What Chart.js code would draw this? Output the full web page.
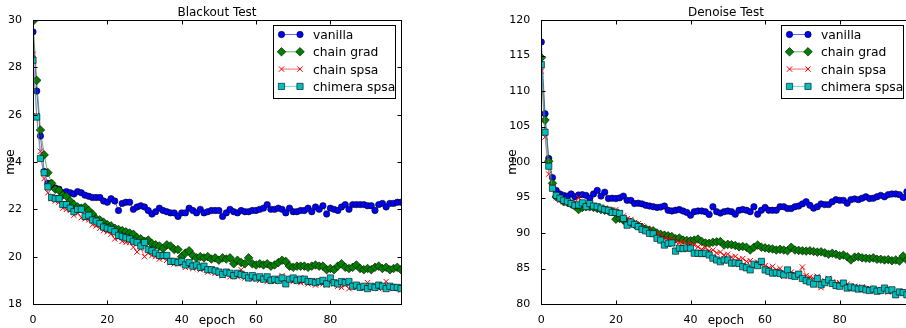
<!DOCTYPE html>
<html>
<head>
<meta charset="utf-8">
<script src="https://cdn.jsdelivr.net/npm/chart.js"></script>
<style>
  html, body { margin: 0; padding: 0; background: #fff; overflow: hidden; }
  body { width: 906px; height: 328px; position: relative; }
  canvas { position: absolute; top: 0; }
</style>
</head>
<body>
<canvas id="blackoutChart" width="453" height="328" style="left:0px"></canvas>
<canvas id="denoiseChart" width="470" height="328" style="left:453px"></canvas>
<script>
const epochs = Array.from({ length: 100 }, (_, i) => i);
const seriesNames = ['vanilla', 'chain grad', 'chain spsa', 'chimera spsa'];

// Blackout Test
const blackoutVanilla = [
  29.5, 27.0, 25.1, 23.6, 23.1, 23.0, 22.9, 22.85, 22.7, 22.75,
  22.7, 22.65, 22.75, 22.7, 22.6, 22.55, 22.5, 22.5, 22.5, 22.35,
  22.3, 22.45, 22.35, 21.95, 22.25, 22.3, 22.3, 22.0, 22.1, 22.15,
  22.1, 21.95, 21.8, 21.9, 22.05, 21.95, 21.9, 21.85, 21.85, 21.7,
  21.85, 21.85, 22.05, 21.95, 21.85, 22.0, 21.85, 21.9, 21.95, 21.95,
  21.95, 21.7, 21.85, 22.0, 21.9, 21.85, 21.95, 21.9, 21.9, 21.95,
  21.95, 22.0, 22.05, 22.2, 22.0, 22.0, 22.05, 22.0, 21.85, 22.05,
  21.9, 21.9, 21.95, 21.95, 22.05, 21.9, 22.1, 22.0, 22.15, 21.8,
  22.05, 22.0, 21.95, 22.1, 22.2, 22.0, 22.2, 22.2, 22.2, 22.2,
  22.15, 22.15, 21.95, 22.2, 22.25, 22.1, 22.25, 22.25, 22.3, 22.3
];
const blackoutChainGrad = [
  29.95, 27.45, 25.35, 24.3, 23.55, 23.1, 22.85, 22.8, 22.6, 22.55,
  22.35, 22.2, 22.1, 22.05, 22.1, 21.95, 21.8, 21.6, 21.55, 21.45,
  21.35, 21.3, 21.2, 21.15, 21.1, 21.05, 21.0, 20.95, 20.8, 20.75,
  20.65, 20.7, 20.55, 20.5, 20.45, 20.35, 20.5, 20.45, 20.3, 20.3,
  20.0, 20.15, 20.25, 20.05, 19.95, 20.0, 19.95, 20.0, 19.9, 19.95,
  19.85, 19.95, 19.9, 19.95, 19.7, 19.85, 19.75, 19.7, 19.95, 19.7,
  19.65, 19.7, 19.65, 19.7, 19.6, 19.65, 19.75, 19.85, 19.8, 19.6,
  19.55, 19.6, 19.6, 19.6, 19.55, 19.6, 19.65, 19.6, 19.6, 19.45,
  19.5, 19.45, 19.6, 19.7, 19.55, 19.5, 19.55, 19.65, 19.5, 19.45,
  19.5, 19.45, 19.55, 19.6, 19.5, 19.55, 19.45, 19.5, 19.55, 19.45
];
const blackoutChainSpsa = [
  28.55, 25.95, 24.45, 23.3, 22.7, 22.45, 22.35, 22.3, 22.05, 22.0,
  21.95, 21.75, 21.85, 21.65, 21.6, 21.55, 21.35, 21.3, 21.2, 21.1,
  21.05, 20.95, 20.75, 20.8, 20.65, 20.6, 20.6, 20.4, 20.2, 20.35,
  20.0, 20.15, 20.05, 20.0, 19.9, 19.95, 19.85, 19.75, 19.7, 19.7,
  19.75, 19.55, 19.6, 19.5, 19.55, 19.45, 19.5, 19.35, 19.45, 19.3,
  19.3, 19.2, 19.35, 19.15, 19.25, 19.15, 19.45, 19.1, 19.2, 19.05,
  19.15, 19.0, 19.1, 18.95, 19.05, 18.95, 19.05, 19.2, 18.9, 19.0,
  18.95, 18.95, 18.9, 18.95, 18.85, 18.95, 18.8, 18.9, 18.85, 18.8,
  18.9, 18.85, 18.75, 18.7, 18.8, 18.65, 18.75, 18.7, 18.75, 18.7,
  18.9, 18.7, 18.75, 18.65, 18.75, 18.95, 18.7, 18.65, 18.7, 18.6
];
const blackoutChimeraSpsa = [
  28.3, 25.9, 24.15, 23.55, 22.95, 22.5, 22.45, 22.45, 22.2, 22.2,
  22.05, 21.9, 22.0, 22.0, 21.7, 21.75, 21.55, 21.5, 21.4, 21.25,
  21.2, 21.15, 21.05, 20.9, 20.85, 20.8, 20.75, 20.65, 20.6, 20.45,
  20.6, 20.3, 20.25, 20.15, 20.05, 20.05, 20.05, 19.8, 19.8, 19.75,
  19.8, 19.65, 19.75, 19.6, 19.65, 19.55, 19.6, 19.45, 19.45, 19.4,
  19.35, 19.25, 19.35, 19.3, 19.2, 19.3, 19.25, 19.2, 19.1, 19.2,
  19.1, 19.15, 19.05, 19.15, 19.0, 19.05, 19.0, 19.1, 18.85, 19.05,
  19.1, 19.0, 19.05, 19.05, 18.95, 18.95, 18.9, 18.95, 19.0, 18.85,
  19.1, 18.9, 18.85, 18.95, 18.9, 18.95, 18.75, 18.8, 18.7, 18.75,
  18.65, 18.75, 18.7, 18.8, 18.75, 18.65, 18.75, 18.7, 18.7, 18.65
];

// Denoise Test
const denoiseVanilla = [
  116.9, 106.8, 100.5, 97.8, 96.0, 95.5, 95.3, 95.2, 95.5, 95.1,
  95.35, 95.4, 95.3, 94.9, 95.5, 96.0, 95.2, 95.75, 94.85, 94.9,
  94.85, 94.95, 95.2, 94.6, 94.6, 94.15, 94.2, 94.1, 93.9, 93.8,
  93.7, 93.6, 93.65, 93.8, 93.2, 93.1, 93.2, 93.3, 93.1, 92.9,
  92.5, 93.0, 93.1, 93.1, 93.0, 92.6, 93.7, 93.0, 92.8, 93.0,
  93.1, 93.0, 92.65, 93.2, 93.3, 93.2, 93.0, 93.7, 92.65, 93.2,
  93.6, 93.2, 93.2, 93.2, 93.7, 93.7, 93.45, 93.45, 93.7, 93.8,
  94.1, 94.4, 93.9, 93.5, 93.7, 94.1, 94.0, 94.0, 94.4, 94.7,
  94.6, 94.6, 94.2, 94.7, 94.8, 94.7, 94.9, 95.1, 94.85, 94.9,
  95.1, 95.3, 95.1, 95.4, 95.5, 95.5, 95.4, 95.0, 95.8, 95.7
];
const denoiseChainGrad = [
  114.7, 105.9, 100.1, 97.0, 95.1, 94.9, 94.4, 94.3, 94.1, 93.8,
  93.3, 93.6, 93.7, 93.7, 93.6, 93.45, 93.3, 93.2, 93.1, 93.0,
  91.95, 92.05, 91.8, 91.6, 91.5, 91.2, 91.0, 90.8, 90.6, 90.4,
  90.3, 90.0, 89.8, 89.7, 89.6, 89.5, 89.2, 89.3, 89.0, 88.95,
  88.9, 89.0, 89.15, 88.8, 88.6, 88.55, 88.7, 88.75, 88.8, 88.3,
  88.4, 88.35, 88.25, 88.05, 88.1, 88.0, 87.6, 88.0, 88.3, 88.0,
  87.9, 87.8, 87.75, 87.6, 87.7, 87.6, 87.5, 88.0, 87.6, 87.55,
  87.5, 87.45, 87.5, 87.4, 87.3, 87.35, 87.2, 87.0, 87.15, 87.0,
  86.8, 86.9, 86.65, 86.2, 86.6, 86.65, 86.5, 86.45, 86.4, 86.5,
  86.3, 86.3, 86.2, 86.25, 86.1, 86.2, 86.05, 86.75, 86.2, 86.3
];
const denoiseChainSpsa = [
  112.8, 103.5, 98.3, 96.5, 95.0, 94.6, 94.4, 94.3, 94.1, 94.3,
  95.0, 94.2, 94.0, 93.9, 93.8, 93.7, 93.6, 93.5, 93.3, 93.2,
  93.3, 92.8, 92.4, 92.0, 91.9, 91.5, 91.3, 91.0, 90.6, 90.4,
  90.1, 89.9, 89.7, 89.3, 89.1, 89.2, 88.8, 88.6, 88.8, 88.4,
  88.5, 88.3, 88.05, 87.7, 87.9, 87.5, 87.6, 87.2, 87.3, 86.9,
  87.0, 86.6, 86.7, 86.3, 86.4, 86.0, 86.1, 85.7, 85.9, 85.5,
  85.4, 85.1, 85.3, 84.8, 85.0, 83.9, 84.6, 84.5, 84.2, 84.3,
  85.2, 84.0, 83.8, 83.6, 83.9, 82.3, 83.3, 83.6, 83.1, 82.9,
  83.0, 82.7, 82.8, 82.4, 82.5, 82.3, 82.4, 82.1, 82.2, 81.9,
  82.0, 81.8, 81.9, 81.7, 81.8, 81.6, 81.5, 81.7, 81.5, 81.6
];
const denoiseChimeraSpsa = [
  113.7, 104.2, 99.4, 96.3, 95.3, 94.9, 94.6, 94.4, 94.15, 93.9,
  93.95, 94.25, 93.7, 94.15, 93.8, 93.7, 93.5, 93.3, 93.2, 92.9,
  92.9, 92.75, 92.05, 91.1, 91.55, 91.2, 90.9, 90.5, 90.3, 89.95,
  89.9, 89.25, 89.0, 88.3, 88.55, 88.6, 87.45, 87.85, 87.8, 87.9,
  87.85, 87.15, 87.15, 87.1, 87.15, 86.9, 86.45, 86.2, 85.95, 86.2,
  86.2, 85.75, 85.8, 85.7, 85.25, 85.1, 84.8, 85.6, 85.4, 86.0,
  84.8, 84.6, 84.35, 84.4, 84.3, 84.1, 84.8, 84.0, 83.9, 84.2,
  83.6, 83.3, 83.1, 82.8, 83.6, 82.7, 83.0, 83.4, 82.9, 82.6,
  82.5, 82.95, 82.25, 82.4, 82.25, 82.1, 82.2, 82.0, 81.9, 82.1,
  81.8, 81.9, 82.25, 81.9, 82.0, 81.3, 81.7, 81.6, 81.3, 81.4
];

const xTicksStep = 20;
const blackoutYTicks = { min: 18, max: 30, step: 2 };
const denoiseYTicks = { min: 80, max: 120, step: 5 };

// matplotlib-ish styles: b-o, g-D, r-x, c-s
const lineColors = ['rgba(0,0,255,0.6)', 'rgba(0,128,0,0.6)', 'rgba(255,0,0,0.6)', 'rgba(0,191,191,0.6)'];
const markerStyles = ['circle', 'rectRot', 'crossRot', 'rect'];
const markerRadii = [3.2, 4.3, 3.8, 4.4];
const markerFills = ['#0000ff', '#008000', '#ff0000', '#00bfbf'];
const markerEdges = ['#000000', '#000000', '#ff0000', '#000000'];
const markerEdgeWidths = [0.6, 0.6, 1, 0.6];

const FONT = "'DejaVu Sans', sans-serif";

function buildDatasets(seriesValues) {
  return seriesNames.map((name, i) => ({
    label: name,
    data: epochs.map((e, k) => ({ x: e, y: seriesValues[i][k] })),
    borderColor: lineColors[i],
    borderWidth: 1,
    pointStyle: markerStyles[i],
    pointRadius: markerRadii[i],
    pointBackgroundColor: markerFills[i],
    pointBorderColor: markerEdges[i],
    pointBorderWidth: markerEdgeWidths[i],
    order: seriesNames.length - i,
    tension: 0,
    fill: false
  }));
}

function drawMarker(ctx, ds, x, y) {
  ctx.fillStyle = ds.pointBackgroundColor;
  ctx.strokeStyle = ds.pointBorderColor;
  ctx.lineWidth = ds.pointBorderWidth;
  if (Chart.helpers && Chart.helpers.drawPoint) {
    Chart.helpers.drawPoint(ctx, { pointStyle: ds.pointStyle, radius: ds.pointRadius, borderWidth: ds.pointBorderWidth, rotation: 0 }, x, y);
  } else {
    ctx.beginPath();
    ctx.arc(x, y, ds.pointRadius, 0, Math.PI * 2);
    ctx.fill();
    ctx.stroke();
  }
}

// frame, inward ticks on all sides, title and in-axes legend like matplotlib
const mplFrame = {
  id: 'mplFrame',
  afterDatasetsDraw(chart, args, opts) {
    const { ctx, chartArea: a, scales: { x, y } } = chart;
    const L = Math.round(a.left) + 0.5, R = Math.round(a.right) + 0.5;
    const T = Math.round(a.top) + 0.5, B = Math.round(a.bottom) + 0.5;
    ctx.save();
    ctx.strokeStyle = '#000';
    ctx.lineWidth = 1;
    ctx.beginPath();
    x.ticks.forEach(t => {
      const px = Math.round(x.getPixelForValue(t.value)) + 0.5;
      ctx.moveTo(px, B); ctx.lineTo(px, B - 4);
      ctx.moveTo(px, T); ctx.lineTo(px, T + 4);
    });
    y.ticks.forEach(t => {
      const py = Math.round(y.getPixelForValue(t.value)) + 0.5;
      ctx.moveTo(L, py); ctx.lineTo(L + 4, py);
      ctx.moveTo(R, py); ctx.lineTo(R - 4, py);
    });
    ctx.stroke();
    ctx.strokeRect(L, T, R - L, B - T);

    // title
    ctx.fillStyle = '#000';
    ctx.font = '12px ' + FONT;
    ctx.textAlign = 'center';
    ctx.textBaseline = 'alphabetic';
    ctx.fillText(opts.title, (a.left + a.right) / 2, a.top - 4.5);

    // legend box, upper right
    const boxR = Math.round(a.right - opts.legendInset) + 0.5;
    const boxL = boxR - 122;
    const boxT = Math.round(a.top + 5) + 0.5;
    const boxH = 73;
    ctx.fillStyle = '#fff';
    ctx.fillRect(boxL, boxT, boxR - boxL, boxH);
    ctx.strokeStyle = '#000';
    ctx.lineWidth = 1;
    ctx.strokeRect(boxL, boxT, boxR - boxL, boxH);
    ctx.font = '12.3px ' + FONT;
    ctx.textAlign = 'left';
    chart.data.datasets.forEach((ds, i) => {
      const ry = boxT + 9 + i * 17.3;
      const x1 = boxL + 8, x2 = x1 + 18.5;
      ctx.strokeStyle = ds.borderColor;
      ctx.lineWidth = ds.borderWidth;
      ctx.beginPath();
      ctx.moveTo(x1, ry); ctx.lineTo(x2, ry);
      ctx.stroke();
      drawMarker(ctx, ds, x1, ry);
      drawMarker(ctx, ds, x2, ry);
      ctx.fillStyle = '#000';
      ctx.fillText(ds.label, boxL + 39.5, ry + 4.5);
    });
    ctx.restore();
  }
};

function buildChart(canvasId, title, seriesValues, yTicks, layout) {
  const ctx = document.getElementById(canvasId).getContext('2d');
  return new Chart(ctx, {
    type: 'line',
    data: { datasets: buildDatasets(seriesValues) },
    plugins: [mplFrame],
    options: {
      responsive: false,
      devicePixelRatio: 1,
      animation: false,
      events: [],
      layout: { padding: layout.padding },
      plugins: {
        legend: { display: false },
        tooltip: { enabled: false },
        title: { display: false },
        mplFrame: { title: title, legendInset: layout.legendInset }
      },
      scales: {
        x: {
          type: 'linear',
          min: 0,
          max: epochs[epochs.length - 1],
          grid: { display: false },
          border: { display: false },
          ticks: {
            stepSize: xTicksStep,
            includeBounds: false,
            maxRotation: 0,
            padding: 2,
            color: '#000',
            font: { family: FONT, size: 11 }
          },
          title: {
            display: true,
            text: 'epoch',
            color: '#000',
            font: { family: FONT, size: 12 },
            padding: { top: 0, bottom: 0 }
          },
          afterFit(scale) { scale.height = 24; }
        },
        y: {
          type: 'linear',
          min: yTicks.min,
          max: yTicks.max,
          grid: { display: false },
          border: { display: false },
          ticks: {
            stepSize: yTicks.step,
            padding: 3,
            color: '#000',
            font: { family: FONT, size: 11 }
          },
          title: {
            display: true,
            text: 'mse',
            color: '#000',
            font: { family: FONT, size: 12 },
            padding: { top: 1, bottom: 0 }
          },
          afterFit(scale) { scale.width = layout.yWidth; }
        }
      }
    }
  });
}

buildChart('blackoutChart', 'Blackout Test',
  [blackoutVanilla, blackoutChainGrad, blackoutChainSpsa, blackoutChimeraSpsa],
  blackoutYTicks,
  { padding: { left: 3, right: 52, top: 20, bottom: 0 }, yWidth: 30, legendInset: 6 });

buildChart('denoiseChart', 'Denoise Test',
  [denoiseVanilla, denoiseChainGrad, denoiseChainSpsa, denoiseChimeraSpsa],
  denoiseYTicks,
  { padding: { left: 51.4, right: 12.4, top: 20, bottom: 0 }, yWidth: 36.9, legendInset: 7.5 });
</script>
</body>
</html>
